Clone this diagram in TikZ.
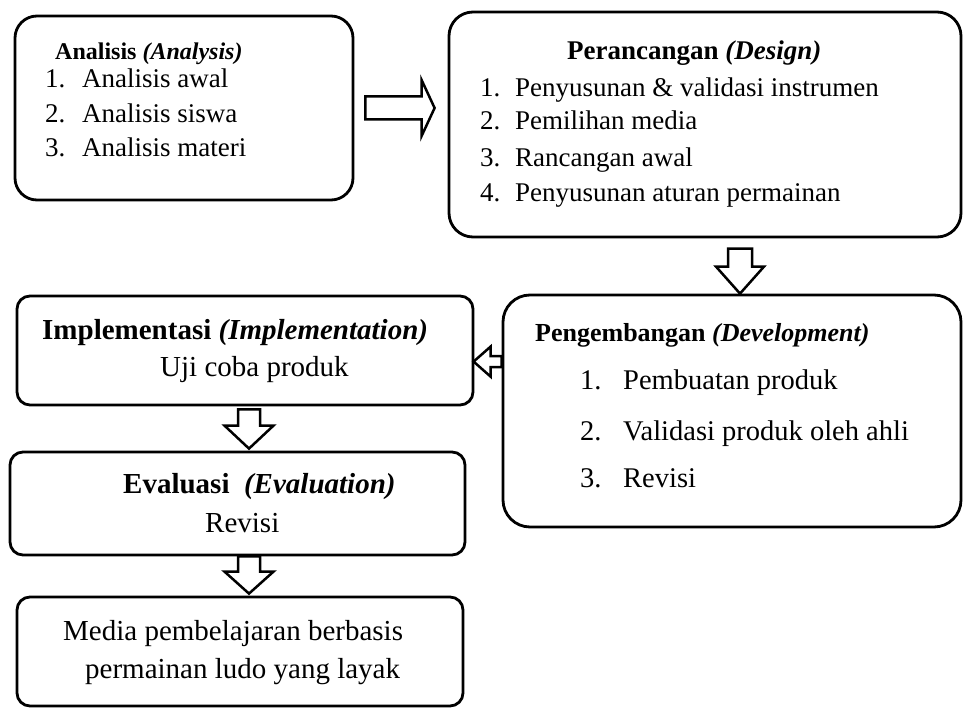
\documentclass[tikz,border=0pt]{standalone}
\usepackage{fontspec}
\setmainfont{Liberation Serif}
\usepackage{tikz}
\usetikzlibrary{calc}

\tikzset{
  stage/.style={draw, line width=2.8pt, inner sep=0pt},
  lbl/.style={anchor=base west, inner sep=0pt},
  hollow/.style={draw, line width=2.5pt, fill=white, line join=miter},
}

% hollow block arrow: tail, tip, shaft half width, head half width, head length
\newcommand{\hollowarrow}[5]{%
  \coordinate (ha-s) at (#1);
  \coordinate (ha-e) at (#2);
  \coordinate (ha-h) at ($(ha-e)!#5pt!(ha-s)$);
  \draw[hollow] ($(ha-s)!#3pt!90:(ha-e)$) -- ($(ha-h)!#3pt!90:(ha-e)$) -- ($(ha-h)!#4pt!90:(ha-e)$) -- (ha-e)
    -- ($(ha-h)!#4pt!-90:(ha-e)$) -- ($(ha-h)!#3pt!-90:(ha-e)$) -- ($(ha-s)!#3pt!-90:(ha-e)$) -- cycle;
}

\begin{document}
\begin{tikzpicture}[x=1pt,y=1pt,yscale=-1,xscale=1]
\useasboundingbox (0,0) rectangle (964,708);

%Rounded Rect
\node[stage, rounded corners=22pt, minimum width=338pt, minimum height=184pt] (analisis) at (184,108) {};
%Rounded Rect
\node[stage, rounded corners=24pt, minimum width=512pt, minimum height=225pt] (perancangan) at (705,124.5) {};
%Rounded Rect
\node[stage, rounded corners=27pt, minimum width=458pt, minimum height=232pt] (pengembangan) at (732,411) {};
%Rounded Rect
\node[stage, rounded corners=13pt, minimum width=456pt, minimum height=109pt] (implementasi) at (245,350.5) {};
%Rounded Rect
\node[stage, rounded corners=13pt, minimum width=455pt, minimum height=103pt] (evaluasi) at (237.5,503.5) {};
%Rounded Rect
\node[stage, rounded corners=13pt, minimum width=446pt, minimum height=109pt] (produk) at (240,651.5) {};

%Right Arrow
\hollowarrow{$(analisis.east)+(11,0)$}{$(perancangan.west |- analisis.east)+(-13,0)$}{11.5}{28}{13}
%Down Arrow
\hollowarrow{$(pengembangan.north)+(8,-45)$}{$(pengembangan.north)+(8,0)$}{12}{24}{27}
%Left Arrow
\hollowarrow{$(pengembangan.north west)+(0,68)$}{$(pengembangan.north west)+(-28,68)$}{5.5}{15}{17}
%Down Arrow
\hollowarrow{$(implementasi.south)+(4,3)$}{$(evaluasi.north)+(11.5,-2)$}{11}{24.5}{23}
%Down Arrow
\hollowarrow{$(evaluasi.south)+(11.5,0)$}{$(produk.north)+(9,-2)$}{11}{24.5}{22}

% Text Node
\node[lbl, font=\fontsize{24}{28}\selectfont] (a0) at (55,60) {\textbf{Analisis} \textbf{\textit{(Analysis)}}};
% Text Node
\node[lbl, font=\fontsize{27}{32}\selectfont] (a1) at (45,88) {\makebox[37pt][l]{1.}Analisis awal};
% Text Node
\node[lbl, font=\fontsize{27}{32}\selectfont] (a2) at (45,123) {\makebox[37pt][l]{2.}Analisis siswa};
% Text Node
\node[lbl, font=\fontsize{27}{32}\selectfont] (a3) at (45,157) {\makebox[37pt][l]{3.}Analisis materi};

% Text Node
\node[lbl, font=\fontsize{27}{32}\selectfont] (p0) at (567,60) {\textbf{Perancangan} \textbf{\textit{(Design)}}};
% Text Node
\node[lbl, font=\fontsize{27}{32}\selectfont] (p1) at (480,97) {\makebox[35pt][l]{1.}Penyusunan \& validasi instrumen};
% Text Node
\node[lbl, font=\fontsize{27}{32}\selectfont] (p2) at (480,130) {\makebox[35pt][l]{2.}Pemilihan media};
% Text Node
\node[lbl, font=\fontsize{27}{32}\selectfont] (p3) at (480,167) {\makebox[35pt][l]{3.}Rancangan awal};
% Text Node
\node[lbl, font=\fontsize{27}{32}\selectfont] (p4) at (480,202) {\makebox[35pt][l]{4.}Penyusunan aturan permainan};

% Text Node
\node[lbl, font=\fontsize{26}{31}\selectfont] (g0) at (535,342) {\textbf{Pengembangan} \textbf{\textit{(Development)}}};
% Text Node
\node[lbl, font=\fontsize{28.5}{34}\selectfont] (g1) at (580,390) {\makebox[43pt][l]{1.}Pembuatan produk};
% Text Node
\node[lbl, font=\fontsize{28.5}{34}\selectfont] (g2) at (580,440) {\makebox[43pt][l]{2.}Validasi produk oleh ahli};
% Text Node
\node[lbl, font=\fontsize{28.5}{34}\selectfont] (g3) at (580,487) {\makebox[43pt][l]{3.}Revisi};

% Text Node
\node[lbl, font=\fontsize{29}{35}\selectfont] (i0) at (42,340) {\textbf{Implementasi} \textbf{\textit{(Implementation)}}};
% Text Node
\node[lbl, font=\fontsize{29}{35}\selectfont] (i1) at (160,377) {Uji coba produk};

% Text Node
\node[lbl, font=\fontsize{29}{35}\selectfont] (e0) at (123,493) {\textbf{Evaluasi}\ \ \textbf{\textit{(Evaluation)}}};
% Text Node
\node[lbl, font=\fontsize{29}{35}\selectfont] (e1) at (205,532) {Revisi};

% Text Node
\node[lbl, font=\fontsize{29}{35}\selectfont] (m1) at (63,640) {Media pembelajaran berbasis};
% Text Node
\node[lbl, font=\fontsize{29}{35}\selectfont] (m2) at (85,678) {permainan ludo yang layak};

\end{tikzpicture}
\end{document}
